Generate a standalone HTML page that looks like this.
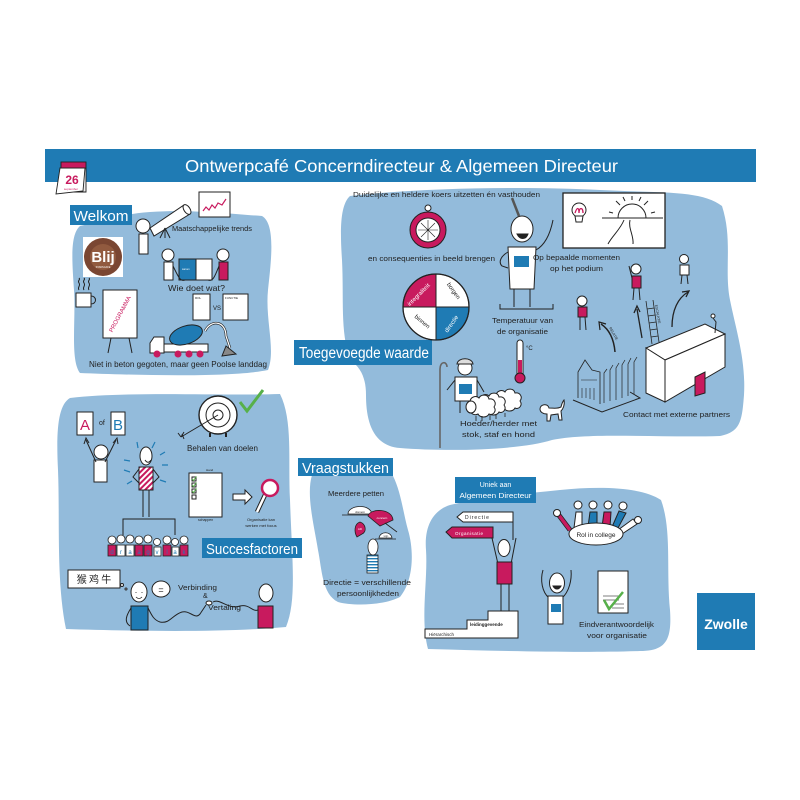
<!DOCTYPE html>
<html><head><meta charset="utf-8"><style>
html,body{margin:0;padding:0;background:#fff;}
svg{display:block;}
text{font-family:"Liberation Sans","Noto Sans CJK SC",sans-serif;}
</style></head><body>
<svg width="800" height="800" viewBox="0 0 800 800" xmlns="http://www.w3.org/2000/svg">
<defs>
<pattern id="str" width="4" height="4" patternUnits="userSpaceOnUse" patternTransform="rotate(45)">
<rect width="4" height="4" fill="#fff"/><rect width="2" height="4" fill="#c81a5e"/></pattern>
<pattern id="hstr" width="4" height="3" patternUnits="userSpaceOnUse">
<rect width="4" height="3" fill="#fff"/><rect width="4" height="1.4" fill="#1f7bb4"/></pattern>
</defs>
<rect width="800" height="800" fill="#fff"/>

<!-- BLOBS -->
<g fill="#93bbdb">
<path d="M80,226 C100,222 120,214 150,212 C190,209 232,214 262,216 C276,224 271,262 268,290 C265,320 276,350 268,370 C230,378 130,375 80,373 C70,360 76,320 74,290 C72,260 70,235 80,226 Z"/>
<path d="M350,196 C420,188 520,186 600,190 C660,193 702,190 722,206 C733,240 724,270 730,300 C736,330 746,360 744,395 C742,420 741,432 720,436 C660,438 590,432 552,440 C520,450 450,452 400,448 C372,446 366,420 366,395 C366,380 362,368 350,360 C340,330 344,300 342,260 C340,230 340,205 350,196 Z"/>
<path d="M70,398 C130,391 220,396 280,394 C293,420 288,460 290,500 C292,560 297,600 286,627 C220,633 130,631 66,629 C56,580 60,520 58,470 C56,430 58,405 70,398 Z"/>
<path d="M312,475 C340,471 370,472 393,476 C401,492 403,512 408,530 C414,550 414,580 400,597 C382,606 352,606 338,602 C322,594 322,570 318,550 C314,525 306,495 312,475 Z"/>
<path d="M450,505 C480,498 520,494 560,490 C600,486 642,487 661,500 C672,530 666,570 670,610 C672,640 666,651 640,651 C580,653 500,651 428,649 C420,620 428,580 426,550 C424,525 434,510 450,505 Z"/>
</g>

<!-- HEADER -->
<rect x="45" y="149" width="711" height="33" fill="#1f7bb4"/>
<text x="185" y="172" font-size="17.5" fill="#fff" textLength="433" lengthAdjust="spacingAndGlyphs">Ontwerpcafé Concerndirecteur &amp; Algemeen Directeur</text>

<!-- calendar -->
<g stroke="#222" stroke-width="0.9">
<polygon points="60,168 86,168 86,192 62,192" fill="#eee"/>
<polygon points="60,168 85,168 83,191 56,194" fill="#fff"/>
<rect x="61" y="162" width="25" height="6" fill="#c81a5e"/>
</g>
<text x="72" y="184" font-size="12" font-weight="bold" fill="#c81a5e" text-anchor="middle">26</text>
<text x="71" y="190" font-size="3" fill="#c81a5e" text-anchor="middle">september</text>

<!-- LABELS -->
<rect x="70" y="205" width="62" height="20" fill="#1f7bb4"/>
<text x="101" y="221" font-size="15" fill="#fff" text-anchor="middle" textLength="55" lengthAdjust="spacingAndGlyphs">Welkom</text>
<rect x="294" y="340" width="138" height="25" fill="#1f7bb4"/>
<text x="299" y="358" font-size="15.5" fill="#fff" textLength="130" lengthAdjust="spacingAndGlyphs">Toegevoegde waarde</text>
<rect x="202" y="538" width="100" height="20" fill="#1f7bb4"/>
<text x="206" y="554" font-size="15" fill="#fff" textLength="92" lengthAdjust="spacingAndGlyphs">Succesfactoren</text>
<rect x="298" y="458" width="95" height="18" fill="#1f7bb4"/>
<text x="302" y="473" font-size="14.5" fill="#fff" textLength="87" lengthAdjust="spacingAndGlyphs">Vraagstukken</text>
<rect x="455" y="477" width="81" height="26" fill="#1f7bb4"/>
<text x="495.5" y="487" font-size="7" fill="#fff" text-anchor="middle">Uniek aan</text>
<text x="495.5" y="498" font-size="7" fill="#fff" text-anchor="middle" textLength="72" lengthAdjust="spacingAndGlyphs">Algemeen Directeur</text>
<rect x="697" y="593" width="58" height="57" fill="#1f7bb4"/>
<text x="726" y="629" font-size="14" font-weight="bold" fill="#fff" text-anchor="middle">Zwolle</text>

<!-- WELKOM DRAWINGS -->
<g stroke="#222" stroke-width="1" fill="#fff">
<rect x="139" y="234" width="9" height="20"/>
<circle cx="143" cy="226" r="7"/>
<polygon points="150,228 184,205 190,214 154,236"/>
<ellipse cx="187" cy="209.5" rx="3" ry="5.5" transform="rotate(-34 187 209.5)"/>
<path d="M165,228 L160,238 M165,228 L170,238 M165,228 L165,238" fill="none"/>
<rect x="199" y="192" width="31" height="25"/>
<rect x="83" y="237" width="40" height="40" stroke="none"/>
<rect x="164" y="262" width="9" height="18"/>
<circle cx="168" cy="255" r="6"/>
<rect x="179" y="259" width="17" height="21" fill="#1f7bb4"/>
<rect x="196" y="259" width="16" height="21"/>
<rect x="219" y="262" width="9" height="18" fill="#c81a5e"/>
<circle cx="223" cy="255" r="6"/>
<path d="M173,266 C178,276 180,282 185,280 M219,266 C215,276 213,282 208,280" fill="none"/>
<rect x="193" y="294" width="17" height="26"/>
<rect x="223" y="294" width="25" height="26"/>
<rect x="76" y="293" width="15" height="14"/>
<path d="M91,296 C97,296 97,304 91,304" fill="none"/>
<path d="M79,290 c-2,-3 2,-4 0,-7 c-2,-3 2,-3 0,-5 M84,290 c-2,-3 2,-4 0,-7 c-2,-3 2,-3 0,-5 M89,290 c-2,-3 2,-4 0,-7 c-2,-3 2,-3 0,-5" fill="none"/>
<rect x="103" y="290" width="34" height="48"/>
<path d="M111,338 L108,353 M129,338 L132,353" fill="none"/>
<path d="M205,331 C212,318 226,322 226,336 L230,348" fill="none" stroke-width="2.5"/>
<path d="M205,331 C212,318 226,322 226,336 L230,348" fill="none" stroke="#fff" stroke-width="1.2"/>
<rect x="162" y="344" width="46" height="8"/>
<path d="M150,353 L150,343 L154,337 L164,337 L164,353 Z"/>
<ellipse cx="186" cy="335" rx="17" ry="9" transform="rotate(-18 186 335)" fill="#1f7bb4"/>
<path d="M226,346 L236,354 L222,356 Z" fill="#888"/>
</g>
<circle cx="103" cy="257" r="19" fill="#7a4632"/>
<circle cx="103" cy="257" r="13" fill="#9b6244" opacity="0.7"/>
<text x="103" y="262" font-size="15" font-weight="bold" fill="#fff" text-anchor="middle">Blij</text>
<text x="103" y="268" font-size="2.5" fill="#fff" text-anchor="middle">STADSCAFE</text>
<polyline points="203,211 206,207 209,210 212,205 215,208 218,203 222,205 226,199" fill="none" stroke="#c81a5e" stroke-width="1.2"/>
<g fill="#c81a5e"><circle cx="157" cy="354" r="3.5"/><circle cx="178" cy="354" r="3.5"/><circle cx="189" cy="354" r="3.5"/><circle cx="200" cy="354" r="3.5"/></g>
<text x="120" y="316" font-size="6" fill="#c81a5e" text-anchor="middle" transform="rotate(-62 120 314)">PROGRAMMA</text>
<text x="172" y="231" font-size="7" fill="#222" textLength="80" lengthAdjust="spacingAndGlyphs">Maatschappelijke trends</text>
<text x="168" y="291" font-size="8.5" fill="#222" textLength="57" lengthAdjust="spacingAndGlyphs">Wie doet wat?</text>
<text x="195" y="299" font-size="3" fill="#222">ROL</text>
<text x="225" y="299" font-size="3" fill="#222">FUNCTIE</text>
<text x="213" y="310" font-size="6" fill="#222">VS</text>
<text x="182" y="270" font-size="2.5" fill="#fff">samen</text>
<text x="89" y="367" font-size="8" fill="#222" textLength="178" lengthAdjust="spacingAndGlyphs">Niet in beton gegoten, maar geen Poolse landdag</text>

<!-- TOEGEVOEGDE WAARDE -->
<text x="353" y="197" font-size="7.5" fill="#222" textLength="187" lengthAdjust="spacingAndGlyphs">Duidelijke en heldere koers uitzetten én vasthouden</text>
<g stroke="#222" stroke-width="1" fill="#fff">
<circle cx="428" cy="208" r="3"/>
<circle cx="428" cy="230" r="18" fill="#c81a5e"/>
<circle cx="428" cy="230" r="12"/>
<path d="M428,220 L428,240 M418,230 L438,230 M421,223 L435,237 M435,223 L421,237" stroke-width="0.6"/>
<path d="M436,307 L403,307 A33,33 0 0 1 436,274 Z" fill="#c81a5e"/>
<path d="M436,307 L436,274 A33,33 0 0 1 469,307 Z"/>
<path d="M436,307 L469,307 A33,33 0 0 1 436,340 Z" fill="#1f7bb4"/>
<path d="M436,307 L436,340 A33,33 0 0 1 403,307 Z"/>
<circle cx="436" cy="307" r="33" fill="none" stroke-width="1.3"/>
<path d="M508,247 L536,247 L534,289 L510,289 Z"/>
<path d="M514,289 L514,307 M530,289 L530,307" fill="none"/>
<path d="M500,304 L500,309 L553,309 L553,304" fill="none"/>
<ellipse cx="522" cy="229" rx="11" ry="13"/>
<path d="M536,250 C545,245 550,235 553,220" fill="none"/>
<path d="M508,252 C501,256 498,262 502,266 L508,268" fill="none"/>
<path d="M519,216 L512,198" stroke="#555" stroke-width="2.5"/>
<path d="M517,234 C520,240 526,240 528,234 Z" fill="#222"/>
<rect x="563" y="193" width="102" height="55" stroke-width="1.3"/>
<circle cx="579" cy="210" r="7"/>
<path d="M575,216 L583,216 L582,222 L576,222 Z"/>
<path d="M602,218 L663,218" fill="none"/>
<path d="M618,218 A14,14 0 0 1 646,218" fill="none"/>
<path d="M632,200 L632,196 M620,205 L616,201 M644,205 L648,201 M613,213 L609,212 M651,213 L655,212 M625,201 L623,197 M639,201 L641,197" fill="none"/>
<path d="M624,220 C620,230 612,236 608,244 M630,220 C628,228 634,236 633,244" fill="none"/>
<circle cx="636" cy="269" r="5"/>
<rect x="632" y="276" width="9" height="12" fill="#c81a5e"/>
<path d="M634,288 L633,300 M639,288 L640,300 M632,278 L629,266" fill="none"/>
<circle cx="684" cy="259" r="4.5"/>
<rect x="680" y="265" width="9" height="10"/>
<path d="M682,275 L681,284 M687,275 L688,284" fill="none"/>
<circle cx="582" cy="301" r="5"/>
<rect x="578" y="307" width="9" height="10" fill="#c81a5e"/>
<path d="M580,317 L580,330 M585,317 L586,330" fill="none"/>
<path d="M642,338 L637,309" fill="none" stroke-width="1.3"/>
<path d="M634,313 L637,306 L640,312" fill="none" stroke-width="1.3"/>
<path d="M672,327 C672,310 678,298 688,292" fill="none" stroke-width="1.3"/>
<path d="M682,292 L689,291 L686,297" fill="none" stroke-width="1.3"/>
<path d="M615,352 C614,340 610,330 601,324" fill="none" stroke-width="1.5"/>
<path d="M600,330 L599,322 L606,324" fill="none" stroke-width="1.2"/>
<path d="M652,344 L646,301 M659,342 L653,300 M651,337 L658,336 M650,330 L657,329 M649,323 L656,322 M648,316 L655,315 M647,309 L654,308" fill="none" stroke-width="0.8"/>
<path d="M573,400 L602,412 L640,398 L630,392" fill="none"/>
<path d="M578,398 L578,372 L585,360 L592,370 L600,372 L600,404" fill="none" stroke-width="0.8"/>
<path d="M581,380 L597,380 M582,388 L582,398 M586,388 L586,398 M590,388 L590,399 M594,388 L594,400" fill="none" stroke-width="0.6"/>
<path d="M604,403 L604,373 L607,369 M610,401 L610,370 L613,365 M616,400 L616,368 L619,363 M622,398 L622,365 L625,360 M628,396 L628,364 L631,358 M634,394 L634,362 L637,357" fill="none" stroke-width="0.7"/>
<polygon points="646,348 705,324 725,334 665,360"/>
<polygon points="646,348 665,360 665,402 646,393"/>
<polygon points="665,360 725,334 725,367 665,402"/>
<path d="M695,377 L705,372 L705,393 L695,396 Z" fill="#c81a5e"/>
<path d="M715,333 L716,322 L713,318" fill="none"/>
<circle cx="713" cy="316" r="2"/>
<rect x="517" y="340" width="6" height="38" rx="3"/>
<rect x="518" y="360" width="4" height="16" fill="#c81a5e" stroke="none"/>
<circle cx="520" cy="378" r="5" fill="#c81a5e"/>
<path d="M440,448 L440,369 C440,361 447,361 447,367" fill="none" stroke="#666" stroke-width="1.6"/>
<rect x="455" y="377" width="22" height="24"/>
<rect x="459" y="384" width="13" height="10" fill="#1f7bb4" stroke="none"/>
<path d="M460,401 L460,413 M472,401 L472,413 M455,380 L447,390 M477,380 L484,392" fill="none"/>
<circle cx="465" cy="368" r="7"/>
<path d="M457,364 C458,357 472,357 473,364 Z" fill="#ddd"/>
<g transform="translate(0,-4)">
<path d="M496,400 c0,-5 6,-7 9,-4 c2,-4 9,-4 10,1 c5,-1 8,4 5,8 c3,4 -1,9 -5,7 c-2,4 -9,4 -11,0 c-4,2 -9,-1 -8,-5 c-3,-2 -2,-7 0,-7 z"/>
<path d="M480,404 c0,-5 6,-7 9,-4 c2,-4 9,-4 10,1 c5,-1 8,4 5,8 c3,4 -1,9 -5,7 c-2,4 -9,4 -11,0 c-4,2 -9,-1 -8,-5 c-3,-2 -2,-7 0,-7 z"/>
<path d="M470,406 c0,-5 6,-7 9,-4 c2,-4 9,-4 10,1 c5,-1 8,4 5,8 c3,4 -1,9 -5,7 c-2,4 -9,4 -11,0 c-4,2 -9,-1 -8,-5 c-3,-2 -2,-7 0,-7 z"/>
<ellipse cx="471" cy="411" rx="5" ry="6"/>
<path d="M476,420 L476,425 M482,420 L482,425 M490,419 L490,424 M496,418 L496,423 M505,417 L505,421" fill="none" stroke-width="0.8"/>
</g>
<path d="M540,409 c0,-5 8,-6 9,-1 c5,0 8,1 12,-1 c1,-4 2,-6 3,-7 c1,5 -1,9 -3,11 l1,9 l-3,0 l-1,-6 l-7,1 l-1,6 l-3,0 l0,-7 c-4,0 -7,-2 -7,-5 z"/>
</g>
<text x="420" y="296" font-size="6" fill="#fff" transform="rotate(-45 420 296)" text-anchor="middle">integraliteit</text>
<text x="452" y="292" font-size="6" fill="#222" transform="rotate(55 452 292)" text-anchor="middle">borgen</text>
<text x="421" y="323" font-size="6" fill="#222" transform="rotate(40 421 323)" text-anchor="middle">binnen</text>
<text x="453" y="325" font-size="6" fill="#fff" transform="rotate(-55 453 325)" text-anchor="middle">directie</text>
<text x="368" y="261" font-size="7.5" fill="#222" textLength="127" lengthAdjust="spacingAndGlyphs">en consequenties in beeld brengen</text>
<text x="533" y="260" font-size="7.5" fill="#222" textLength="87" lengthAdjust="spacingAndGlyphs">Op bepaalde momenten</text>
<text x="550" y="271" font-size="7.5" fill="#222" textLength="53" lengthAdjust="spacingAndGlyphs">op het podium</text>
<text x="492" y="323" font-size="7.5" fill="#222" textLength="61" lengthAdjust="spacingAndGlyphs">Temperatuur van</text>
<text x="497" y="334" font-size="7.5" fill="#222" textLength="51" lengthAdjust="spacingAndGlyphs">de organisatie</text>
<text x="526" y="350" font-size="6" fill="#222">°C</text>
<text x="460" y="426" font-size="7.5" fill="#222" textLength="77" lengthAdjust="spacingAndGlyphs">Hoeder/herder met</text>
<text x="462" y="437" font-size="7.5" fill="#222" textLength="73" lengthAdjust="spacingAndGlyphs">stok, staf en hond</text>
<text x="623" y="417" font-size="7.5" fill="#222" textLength="107" lengthAdjust="spacingAndGlyphs">Contact met externe partners</text>
<text x="609" y="328" font-size="3.5" fill="#222" transform="rotate(60 609 328)">RELATIE</text>
<text x="655" y="305" font-size="3.5" fill="#222" transform="rotate(80 655 305)">ESCALATIE</text>
<rect x="514" y="256" width="15" height="11" fill="#1f7bb4"/>
<path d="M575,213 c2,-6 4,-6 4,0 c0,-6 4,-6 4,0" fill="none" stroke="#c81a5e" stroke-width="1.3"/>

<!-- SUCCESFACTOREN -->
<g stroke="#222" stroke-width="1" fill="#fff">
<rect x="77" y="412" width="16" height="23"/>
<rect x="111" y="412" width="14" height="23"/>
<rect x="94" y="460" width="13" height="22"/>
<circle cx="101" cy="452" r="7"/>
<path d="M96,462 L86,440 M105,462 L116,440" fill="none"/>
<path d="M84,444 L86,438 L89,443 M113,443 L117,438 L118,444" fill="none"/>
<rect x="139" y="467" width="14" height="23" fill="url(#str)"/>
<ellipse cx="146" cy="456" rx="6" ry="9"/>
<path d="M139,469 L133,477 L139,483 M153,469 L159,477 L153,483 M143,490 L143,517 M149,490 L149,517" fill="none"/>
<path d="M123,535 L123,519 L175,519 L175,535" fill="none"/>
<circle cx="218" cy="415" r="19" stroke-width="1.4"/>
<circle cx="218" cy="415" r="12"/>
<circle cx="218" cy="415" r="5"/>
<path d="M210,433 L210,437 M226,433 L226,437" stroke-width="2"/>
<path d="M218,415 L181,437 M181,437 L184,432 M181,437 L178,433 M184,439 L182,434" fill="none"/>
<rect x="189" y="473" width="33" height="44"/>
<rect x="192" y="477" width="4" height="4"/><rect x="192" y="483" width="4" height="4"/><rect x="192" y="489" width="4" height="4"/><rect x="192" y="495" width="4" height="4"/>
<polygon points="233,494 245,494 245,490 252,497 245,504 245,500 233,500"/>
<path d="M265,495 L257,512" stroke-width="4.5"/>
<path d="M265,495 L257,512" stroke="#fff" stroke-width="2.5"/>
<circle cx="270" cy="488" r="8" stroke="#c81a5e" stroke-width="2.5"/>
<rect x="68" y="570" width="52" height="18"/>
<circle cx="122" cy="585" r="1.5"/><circle cx="126" cy="589" r="1"/>
<path d="M131,606 L148,606 L148,630 L131,630 Z" fill="#1f7bb4"/>
<path d="M131,608 C126,616 124,622 130,626 M148,608 C152,616 154,620 160,622 C170,624 172,615 182,612 C190,610 195,620 200,614 L206,605" fill="none"/>
<ellipse cx="139" cy="592" rx="8" ry="10"/>
<ellipse cx="161" cy="589" rx="9" ry="8"/>
<ellipse cx="209" cy="603" rx="3" ry="2"/>
<path d="M213,602 C220,598 228,610 240,606 C250,604 252,612 258,610" fill="none"/>
<path d="M258,606 L273,606 L273,628 L258,628 Z" fill="#c81a5e"/>
<ellipse cx="266" cy="593" rx="7" ry="9"/>
</g>
<path d="M145,460 c2,3 4,3 6,0" fill="none" stroke="#222"/>
<g stroke="#1f7bb4" stroke-width="1.2">
<path d="M124,460 L130,461 M124,470 L130,472 M127,484 L132,481 M160,455 L165,452 M162,465 L168,465 M160,480 L166,482 M137,442 L138,448 M155,442 L152,448"/>
</g>
<path d="M240,402 L247,411 L263,390" fill="none" stroke="#57b04a" stroke-width="3"/>
<path d="M192,479 l1.5,1.5 l3,-4 M192,485 l1.5,1.5 l3,-4 M192,491 l1.5,1.5 l3,-4" fill="none" stroke="#57b04a" stroke-width="1"/>
<text x="85" y="430" font-size="15" fill="#c81a5e" text-anchor="middle">A</text>
<text x="118" y="430" font-size="15" fill="#1f7bb4" text-anchor="middle">B</text>
<text x="99" y="425" font-size="7" fill="#222">of</text>
<text x="187" y="451" font-size="8" fill="#222" textLength="71" lengthAdjust="spacingAndGlyphs">Behalen van doelen</text>
<text x="206" y="471" font-size="3" fill="#222">Hand</text>
<text x="198" y="521" font-size="3.5" fill="#222">schappen</text>
<text x="261" y="521" font-size="4" fill="#222" text-anchor="middle">Organisatie kan</text>
<text x="261" y="527" font-size="4" fill="#222" text-anchor="middle">werken met focus</text>
<g stroke="#222" stroke-width="0.8">
<rect x="108" y="545" width="8" height="11" fill="#c81a5e"/><circle cx="112" cy="540" r="4" fill="#fff"/>
<rect x="117" y="545" width="8" height="11" fill="#fff"/><circle cx="121" cy="539" r="4" fill="#fff"/>
<rect x="126" y="545" width="8" height="11" fill="#fff"/><circle cx="130" cy="539" r="4" fill="#fff"/>
<rect x="135" y="545" width="8" height="11" fill="#c81a5e"/><circle cx="139" cy="540" r="4" fill="#fff"/>
<rect x="144" y="545" width="8" height="11" fill="#c81a5e"/><circle cx="148" cy="539" r="4" fill="#fff"/>
<rect x="154" y="547" width="7" height="9" fill="#fff"/><circle cx="157" cy="542" r="3.5" fill="#fff"/>
<rect x="163" y="545" width="8" height="11" fill="#c81a5e"/><circle cx="167" cy="540" r="4" fill="#fff"/>
<rect x="172" y="547" width="7" height="9" fill="#fff"/><circle cx="175" cy="542" r="3.5" fill="#fff"/>
<rect x="180" y="545" width="8" height="11" fill="#c81a5e"/><circle cx="184" cy="540" r="4" fill="#fff"/>
</g>
<g font-size="6" fill="#1f7bb4" text-anchor="middle">
<text x="112" y="554">d</text><text x="121" y="554">r</text><text x="130" y="554">a</text><text x="139" y="554">a</text><text x="148" y="554">g</text><text x="157" y="554">v</text><text x="167" y="554">l</text><text x="175" y="554">a</text><text x="184" y="554">k</text>
</g>
<text x="94" y="583" font-size="10" fill="#222" text-anchor="middle" style='font-family:"Noto Sans CJK SC",sans-serif'>猴 鸡 牛</text>
<text x="161" y="593" font-size="9" fill="#222" text-anchor="middle">=</text>
<path d="M136,592 l0,1 M142,592 l0,1 M136,597 c2,2 4,2 6,0" fill="none" stroke="#222" stroke-width="0.8"/>
<text x="178" y="590" font-size="7.5" fill="#222" textLength="39" lengthAdjust="spacingAndGlyphs">Verbinding</text>
<text x="203" y="598" font-size="7" fill="#222">&amp;</text>
<text x="208" y="610" font-size="7.5" fill="#222" textLength="33" lengthAdjust="spacingAndGlyphs">Vertaling</text>

<!-- VRAAGSTUKKEN -->
<text x="328" y="496" font-size="7" fill="#222" textLength="56" lengthAdjust="spacingAndGlyphs">Meerdere petten</text>
<g stroke="#222" stroke-width="0.8">
<path d="M342,515 L372,515 M348,514 C348,505 370,503 372,514 Z" fill="#fff"/>
<path d="M368,516 C370,508 392,508 393,520 L380,526 Z" fill="#c81a5e"/>
<path d="M385,523 L397,532" fill="none"/>
<path d="M360,522 C366,524 367,532 362,534 L357,537 C354,532 354,524 360,522 Z" fill="#c81a5e"/>
<path d="M375,539 L396,539 M379,538 C380,531 391,531 392,538 Z" fill="#fff"/>
<rect x="367" y="555" width="11" height="18" fill="url(#hstr)"/>
<ellipse cx="373" cy="547" rx="5" ry="8" fill="#fff"/>
</g>
<text x="360" y="513" font-size="3" fill="#222" text-anchor="middle">domein</text>
<text x="382" y="519" font-size="3" fill="#fff" text-anchor="middle">concern</text>
<text x="360" y="530" font-size="3" fill="#fff" text-anchor="middle">AD</text>
<text x="386" y="537" font-size="3" fill="#222" text-anchor="middle">Lijn</text>
<text x="323" y="585" font-size="7.5" fill="#222" textLength="88" lengthAdjust="spacingAndGlyphs">Directie = verschillende</text>
<text x="368" y="596" font-size="7.5" fill="#222" text-anchor="middle" textLength="62" lengthAdjust="spacingAndGlyphs">persoonlijkheden</text>

<!-- UNIEK -->
<g stroke="#222" stroke-width="1" fill="#fff">
<path d="M513,512 L513,540" fill="none"/>
<polygon points="457,517 463,512 513,512 513,522 463,522"/>
<polygon points="446,532 452,527 493,527 493,538 452,538" fill="#c81a5e"/>
<path d="M425,638 L425,629 L467,629 L467,620 L488,620 L488,611 L518,611 L518,638 Z"/>
<path d="M501,584 L501,611 M509,584 L509,611" fill="none"/>
<path d="M498,564 L492,538 M511,564 L516,538" fill="none"/>
<rect x="497" y="562" width="15" height="22" fill="#c81a5e"/>
<ellipse cx="504" cy="548" rx="6" ry="8.5"/>
<path d="M570,530 L558,514" stroke-width="5"/><path d="M570,530 L558,514" stroke="#c81a5e" stroke-width="3.5"/>
<path d="M574,528 L576,512 L582,512 L582,528 Z"/>
<path d="M588,527 L590,512 L597,512 L597,527 Z" fill="#1f7bb4"/>
<path d="M602,527 L604,512 L611,512 L610,527 Z" fill="#c81a5e"/>
<path d="M612,527 L619,511 L626,513 L618,528 Z" fill="#1f7bb4"/>
<path d="M618,530 L633,519 L637,524 L622,534 Z"/>
<circle cx="557" cy="513" r="3.5"/>
<circle cx="578" cy="505" r="4"/>
<circle cx="593" cy="505" r="4"/>
<circle cx="608" cy="505" r="4"/>
<circle cx="623" cy="506" r="4"/>
<circle cx="638" cy="520" r="3.5"/>
<ellipse cx="596" cy="534" rx="27" ry="11"/>
<path d="M549,598 C542,592 540,580 543,570 M562,598 C569,592 572,580 571,570" fill="none"/>
<rect x="548" y="596" width="15" height="28"/>
<rect x="551" y="604" width="10" height="8" fill="#1f7bb4" stroke="none"/>
<ellipse cx="557" cy="583" rx="7.5" ry="10"/>
<path d="M553,586 c2,4 6,4 8,0 z" fill="#222"/>
<rect x="598" y="571" width="30" height="42"/>
</g>
<path d="M603,596 l16,0 M603,600 l16,0 M612,604 l12,0 M612,608 l12,0" stroke="#555" stroke-width="0.8"/>
<path d="M604,600 L609,609 L623,592" fill="none" stroke="#57b04a" stroke-width="2.5"/>
<text x="465" y="519" font-size="5" fill="#222" letter-spacing="1">Directie</text>
<text x="455" y="535" font-size="4.5" fill="#fff" letter-spacing="0.5">Organisatie</text>
<text x="470" y="626" font-size="4.5" fill="#222" font-weight="bold">leidinggevende</text>
<text x="429" y="636" font-size="4.5" fill="#222">Hiërarchisch</text>
<text x="596" y="537" font-size="6.5" fill="#222" text-anchor="middle">Rol in college</text>
<text x="579" y="627" font-size="7.5" fill="#222" textLength="75" lengthAdjust="spacingAndGlyphs">Eindverantwoordelijk</text>
<text x="617" y="638" font-size="7.5" fill="#222" text-anchor="middle" textLength="60" lengthAdjust="spacingAndGlyphs">voor organisatie</text>
</svg>
</body></html>
